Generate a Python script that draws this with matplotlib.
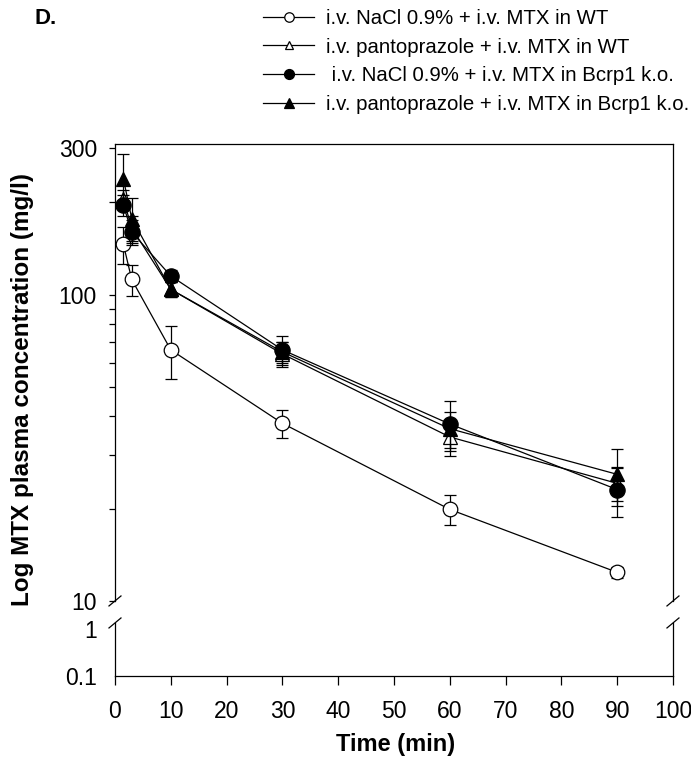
import matplotlib
matplotlib.use("Agg")
import matplotlib.pyplot as plt
import numpy as np
from matplotlib.ticker import FixedLocator, NullFormatter, FixedFormatter

plt.rcParams['font.family'] = ['Liberation Sans', 'DejaVu Sans']

# time points (min)
time = [1.5, 3, 10, 30, 60, 90]

# MTX plasma concentration (mg/l), mean and error
nacl_wt = [146, 112, 66, 38, 19.9, 12.4]
nacl_wt_err = [20, 13, 13, 4, 2.2, 0.5]
panto_wt = [205, 165, 104, 64, 34.3, 24.2]
panto_wt_err = [15, 15, 6, 6, 4.5, 3]
nacl_ko = [196, 160, 115, 66, 37.8, 23.1]
nacl_ko_err = [15, 15, 5, 7, 7, 4.3]
panto_ko = [239, 177, 104, 65, 36.5, 25.9]
panto_ko_err = [48, 30, 6, 5, 5, 5.5]

labels = ["i.v. NaCl 0.9% + i.v. MTX in WT",
          "i.v. pantoprazole + i.v. MTX in WT",
          " i.v. NaCl 0.9% + i.v. MTX in Bcrp1 k.o.",
          "i.v. pantoprazole + i.v. MTX in Bcrp1 k.o."]

fig = plt.figure(figsize=(6.91, 7.64), dpi=100)
ax = fig.add_axes([0.1664, 0.2134, 0.8075, 0.5981])
axb = fig.add_axes([0.1664, 0.1152, 0.8075, 0.0694])

lw = 0.9
styles = [
    (nacl_wt, nacl_wt_err, dict(marker='o', mfc='white', ms=10.5)),
    (panto_wt, panto_wt_err, dict(marker='^', mfc='white', ms=9.5)),
    (nacl_ko, nacl_ko_err, dict(marker='o', mfc='black', ms=11)),
    (panto_ko, panto_ko_err, dict(marker='^', mfc='black', ms=10)),
]
handles = []
for vals, err, st in styles:
    ax.errorbar(time, vals, yerr=err, fmt='none', ecolor='black',
                elinewidth=lw, capsize=4, capthick=lw)
    h, = ax.plot(time, vals, color='black', lw=lw, mec='black', mew=lw, **st)
    handles.append(h)

# upper part of axis
ax.set_yscale('log')
ax.set_ylim(10, 310)
ax.set_xlim(0, 100)
ax.yaxis.set_major_locator(FixedLocator([10, 100, 300]))
ax.yaxis.set_major_formatter(FixedFormatter(['10', '100', '300']))
ax.yaxis.set_minor_locator(FixedLocator([20, 30, 40, 50, 60, 70, 80, 90, 200]))
ax.yaxis.set_minor_formatter(NullFormatter())
ax.spines['bottom'].set_visible(False)
ax.tick_params(axis='x', bottom=False, labelbottom=False)
ax.tick_params(axis='y', which='both', direction='out', length=4, width=lw,
               labelsize=16.5, pad=9)

# lower part of axis
axb.set_yscale('log')
axb.set_ylim(0.1, 1.34)
axb.set_xlim(0, 100)
axb.yaxis.set_major_locator(FixedLocator([0.1, 1]))
axb.yaxis.set_major_formatter(FixedFormatter(['0.1', '1']))
axb.yaxis.set_minor_locator(FixedLocator([]))
axb.spines['top'].set_visible(False)
axb.set_xticks(np.arange(0, 101, 10))
axb.tick_params(axis='x', direction='out', length=6.5, width=lw,
                labelsize=16.5, pad=11)
axb.tick_params(axis='y', length=0, labelsize=16.5, pad=13)

for a in (ax, axb):
    for s in a.spines.values():
        s.set_linewidth(lw)

# break marks
dx = 6 / 558
for a, yy, hpx in ((ax, 0, 457), (axb, 1, 53)):
    dy = 5 / hpx
    for xx in (0, 1):
        a.plot([xx - dx, xx + dx], [yy - dy, yy + dy], transform=a.transAxes,
               color='black', lw=lw, clip_on=False)

fig.legend(handles, labels, loc='upper left', bbox_to_anchor=(0.3806, 0.9885),
           frameon=False, fontsize=14.7, handlelength=2.5, handletextpad=0.6,
           labelspacing=0.48, borderpad=0, borderaxespad=0, markerscale=0.65)

fig.text(0.05, 1 - 19 / 764, 'D.', fontsize=16, fontweight='bold',
         va='center', ha='left')
fig.text(0.032, 1 - 390 / 764, 'Log MTX plasma concentration (mg/l)',
         rotation=90, fontsize=17.5, fontweight='bold', va='center', ha='center')
fig.text(396 / 691, 1 - 745 / 764, 'Time (min)', fontsize=17,
         fontweight='bold', va='center', ha='center')

fig.savefig('out.png', dpi=100)
